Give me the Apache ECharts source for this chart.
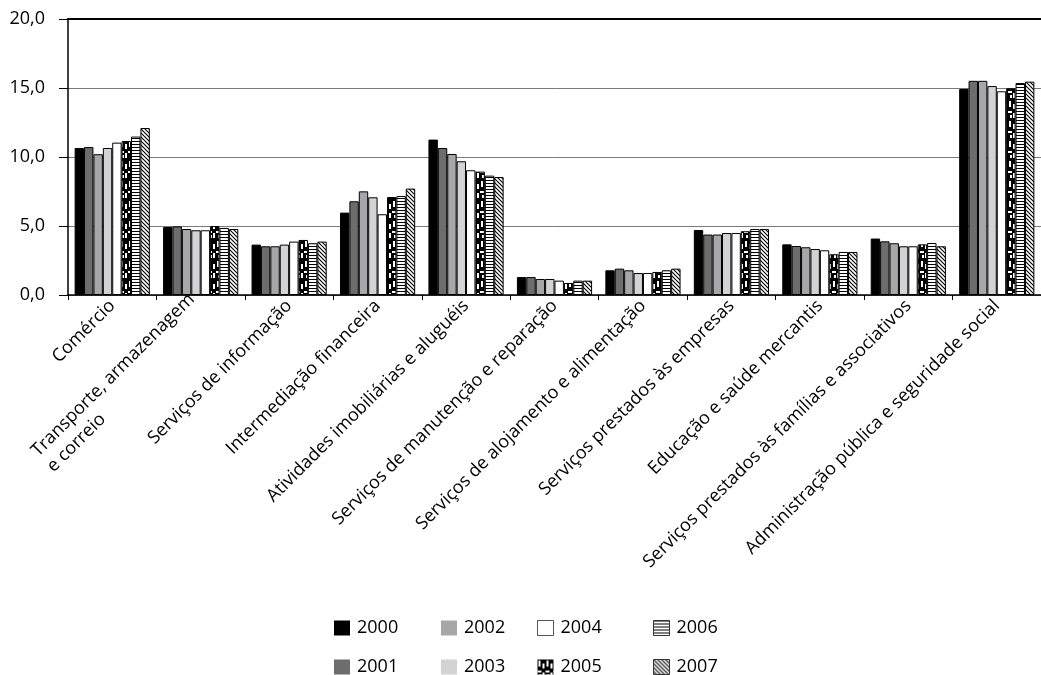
<!DOCTYPE html>
<html lang="pt-BR" style="height: 100%">
<head>
  <meta charset="utf-8">
</head>
<body style="height: 100%; margin: 0; background: #fff">
  <div id="container" style="width: 1041px; height: 675px"></div>

  <script type="text/javascript" src="https://cdn.jsdelivr.net/npm/echarts@6/dist/echarts.min.js"></script>
  <script type="text/javascript">
    var categories = [
      'Comércio',
      'Transporte, armazenagem\ne correio',
      'Serviços de informação',
      'Intermediação financeira',
      'Atividades imobiliárias e aluguéis',
      'Serviços de manutenção e reparação',
      'Serviços de alojamento e alimentação',
      'Serviços prestados às empresas',
      'Educação e saúde mercantis',
      'Serviços prestados às famílias e associativos',
      'Administração pública e seguridade social'
    ];
    var years = ['2000', '2001', '2002', '2003', '2004', '2005', '2006', '2007'];

    // participação (%) por ano, na ordem de categories
    var v2000 = [10.65, 4.93, 3.65, 5.97, 11.26, 1.30, 1.79, 4.71, 3.67, 4.09, 14.93];
    var v2001 = [10.72, 4.97, 3.53, 6.79, 10.65, 1.30, 1.91, 4.38, 3.55, 3.89, 15.52];
    var v2002 = [10.20, 4.78, 3.53, 7.51, 10.22, 1.16, 1.79, 4.38, 3.46, 3.75, 15.52];
    var v2003 = [10.65, 4.69, 3.65, 7.08, 9.69, 1.16, 1.59, 4.49, 3.33, 3.53, 15.14];
    var v2004 = [11.04, 4.69, 3.87, 5.85, 9.04, 1.04, 1.59, 4.49, 3.24, 3.53, 14.76];
    var v2005 = [11.16, 5.00, 3.99, 7.10, 8.94, 0.87, 1.67, 4.62, 2.95, 3.67, 14.98];
    var v2006 = [11.48, 4.86, 3.75, 7.17, 8.65, 1.04, 1.79, 4.78, 3.12, 3.77, 15.36];
    var v2007 = [12.10, 4.78, 3.87, 7.71, 8.55, 1.04, 1.91, 4.78, 3.12, 3.53, 15.46];
    var values = [v2000, v2001, v2002, v2003, v2004, v2005, v2006, v2007];

    var yTicks = [0, 5, 10, 15, 20];

    var FONT = '"Open Sans", "Noto Sans", sans-serif';
    var FS = 18;

    // padrões de preenchimento para 2005, 2006 e 2007
    function makeCanvas(w, h) {
      var c = document.createElement('canvas');
      c.width = w;
      c.height = h;
      return c;
    }
    function brickPattern() {
      var c = makeCanvas(8, 20);
      var ctx = c.getContext('2d');
      ctx.fillStyle = '#000';
      ctx.fillRect(0, 0, 8, 20);
      ctx.fillStyle = '#fff';
      ctx.fillRect(1, 1, 2, 6);
      ctx.fillRect(5, 4, 2, 5);
      ctx.fillRect(0, 11, 4, 2);
      ctx.fillRect(5, 13, 2, 5);
      ctx.fillRect(2, 15, 2, 3);
      return c;
    }
    function hStripePattern() {
      var c = makeCanvas(4, 3);
      var ctx = c.getContext('2d');
      ctx.fillStyle = '#fff';
      ctx.fillRect(0, 0, 4, 3);
      ctx.fillStyle = '#000';
      ctx.fillRect(0, 0, 4, 1);
      return c;
    }
    function diagPattern() {
      var s = 4;
      var c = makeCanvas(s, s);
      var ctx = c.getContext('2d');
      ctx.fillStyle = '#fff';
      ctx.fillRect(0, 0, s, s);
      ctx.strokeStyle = '#000';
      ctx.lineWidth = 1.1;
      ctx.beginPath();
      ctx.moveTo(-1, -1); ctx.lineTo(s + 1, s + 1);
      ctx.moveTo(-1, s - 1); ctx.lineTo(1, s + 1);
      ctx.moveTo(s - 1, -1); ctx.lineTo(s + 1, 1);
      ctx.stroke();
      return c;
    }

    var fills = [
      '#000000',
      '#6d6d6d',
      '#a7a7a9',
      '#d3d3d5',
      '#ffffff',
      { image: brickPattern(), repeat: 'repeat' },
      { image: hStripePattern(), repeat: 'repeat' },
      { image: diagPattern(), repeat: 'repeat' }
    ];

    // largura da linha mais longa, para alinhar rótulos de duas linhas à esquerda
    var measure = makeCanvas(10, 10).getContext('2d');
    measure.font = FS + 'px ' + FONT;
    var longest = 0;
    categories.forEach(function (c) {
      if (c.indexOf('\n') >= 0) {
        c.split('\n').forEach(function (l) {
          longest = Math.max(longest, Math.ceil(measure.measureText(l).width) + 1);
        });
      }
    });
    var lineBox = { width: longest, align: 'left', fontFamily: FONT, fontSize: FS, lineHeight: 22, color: '#000' };

    var series = years.map(function (y, i) {
      return {
        name: y,
        type: 'bar',
        data: values[i],
        barGap: '0%',
        barCategoryGap: '15%',
        itemStyle: {
          color: fills[i],
          borderColor: '#000',
          borderWidth: 1
        },
        emphasis: { disabled: true }
      };
    });

    function legendCol(left, names) {
      return {
        orient: 'vertical',
        left: left,
        top: 619,
        width: 110,
        height: 90,
        padding: 0,
        itemWidth: 16,
        itemHeight: 15,
        itemGap: 21,
        icon: 'rect',
        selectedMode: false,
        textStyle: { fontFamily: FONT, fontSize: FS, color: '#000', padding: [0, 0, 0, 2] },
        data: names.map(function (n) {
          var idx = years.indexOf(n);
          var st = idx < 4 ? { borderWidth: 0 } :
            (idx === 4 ? { borderColor: '#555', borderWidth: 1 } :
              (idx === 5 ? { borderWidth: 0 } : { borderColor: '#333', borderWidth: 1 }));
          return { name: n, itemStyle: st };
        })
      };
    }

    var myChart = echarts.init(document.getElementById('container'));
    myChart.setOption({
      animation: false,
      backgroundColor: '#fff',
      grid: { left: 68, top: 19, width: 985, height: 276 },
      legend: [
        legendCol(334, ['2000', '2001']),
        legendCol(441, ['2002', '2003']),
        legendCol(537, ['2004', '2005']),
        legendCol(653, ['2006', '2007'])
      ],
      xAxis: [
        {
          type: 'category',
          data: categories,
          axisLine: { lineStyle: { color: '#000', width: 1.5 } },
          axisTick: { show: true, length: 5, lineStyle: { color: '#000' } },
          axisLabel: {
            rotate: 45,
            interval: 0,
            margin: 8,
            color: '#000',
            fontFamily: FONT,
            fontSize: FS,
            lineHeight: 22,
            formatter: function (v) {
              if (v.indexOf('\n') < 0) return v;
              return v.split('\n').map(function (l) { return '{l|' + l + '}'; }).join('\n');
            },
            rich: { l: lineBox }
          }
        },
        {
          type: 'category',
          position: 'top',
          data: categories,
          axisLine: { lineStyle: { color: '#000', width: 2 } },
          axisTick: { show: false },
          axisLabel: { show: false }
        }
      ],
      yAxis: {
        type: 'value',
        min: yTicks[0],
        max: yTicks[yTicks.length - 1],
        interval: 5,
        axisLine: { show: true, lineStyle: { color: '#000', width: 1.5 } },
        axisTick: { show: true, length: 9, lineStyle: { color: '#000' } },
        axisLabel: {
          margin: 23,
          color: '#000',
          fontFamily: FONT,
          fontSize: FS,
          formatter: function (v) { return v.toFixed(1).replace('.', ','); }
        },
        splitLine: { lineStyle: { color: '#7a7a7a', width: 1 } }
      },
      series: series
    });
  </script>
</body>
</html>
